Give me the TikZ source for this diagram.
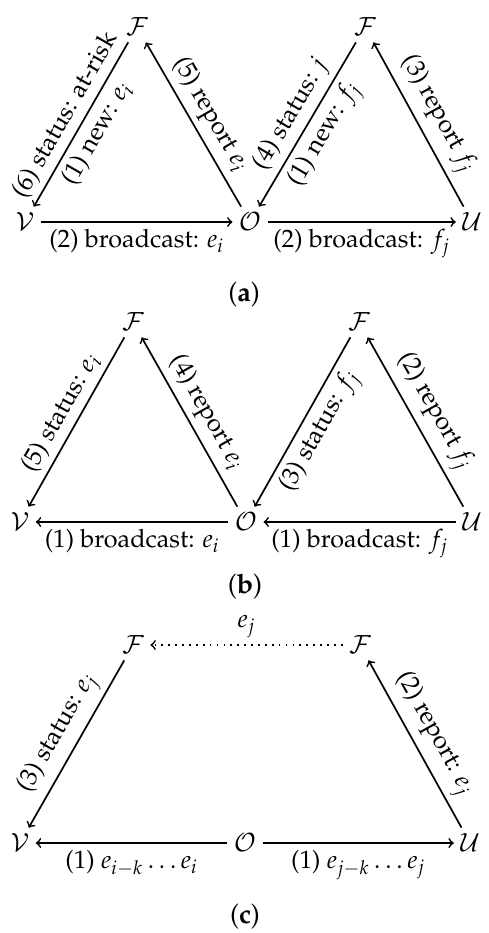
\documentclass[tikz,border=0pt]{standalone}
\usepackage[T1]{fontenc}
\usepackage{mathpazo}
\begin{document}
\begin{tikzpicture}[x=0.5pt,y=-0.5pt,
  font=\fontsize{12.6}{15}\selectfont,
  nd/.style={inner sep=3pt},
  arr/.style={->, line width=0.85pt},
  lbl/.style={sloped, inner sep=2.8pt},
  captxt/.style={font=\fontsize{13.5}{16}\selectfont}]
\useasboundingbox (0,0) rectangle (488,933);
% ---------- (a)
\node[nd] (aV) at (25,222) {$\mathcal{V}$};
\node[nd] (aO) at (250,222) {$\mathcal{O}$};
\node[nd] (aU) at (472,222) {$\mathcal{U}$};
\node[nd] (aF1) at (137,27) {$\mathcal{F}$};
\node[nd] (aF2) at (365,27) {$\mathcal{F}$};
\draw[arr] (aV) -- node[below]{(2) broadcast: $e_i$} (aO);
\draw[arr] (aO) -- node[below]{(2) broadcast: $f_j$} (aU);
\draw[arr] (aF1) -- node[lbl,above]{(6) status: at-risk} node[lbl,below]{(1) new: $e_i$} (aV);
\draw[arr] (aO) -- node[lbl,above]{(5) report $e_i$} (aF1);
\draw[arr] (aF2) -- node[lbl,above]{(4) status: $j$} node[lbl,below]{(1) new: $f_j$} (aO);
\draw[arr] (aU) -- node[lbl,above]{(3) report $f_j$} (aF2);
\node[captxt] (capa) at (244,295) {(\textbf{a})};
% ---------- (b)
\node[nd] (bV) at (20,522) {$\mathcal{V}$};
\node[nd] (bO) at (246,522) {$\mathcal{O}$};
\node[nd] (bU) at (472,522) {$\mathcal{U}$};
\node[nd] (bF1) at (133,322) {$\mathcal{F}$};
\node[nd] (bF2) at (359,322) {$\mathcal{F}$};
\draw[arr] (bO) -- node[below]{(1) broadcast: $e_i$} (bV);
\draw[arr] (bU) -- node[below]{(1) broadcast: $f_j$} (bO);
\draw[arr] (bF1) -- node[lbl,above]{(5) status: $e_i$} (bV);
\draw[arr] (bO) -- node[lbl,above]{(4) report $e_i$} (bF1);
\draw[arr] (bF2) -- node[lbl,below]{(3) status: $f_j$} (bO);
\draw[arr] (bU) -- node[lbl,above]{(2) report $f_j$} (bF2);
\node[captxt] (capb) at (245,587) {(\textbf{b})};
% ---------- (c)
\node[nd] (cV) at (20,843) {$\mathcal{V}$};
\node[nd] (cO) at (245,843) {$\mathcal{O}$};
\node[nd] (cU) at (470,843) {$\mathcal{U}$};
\node[nd] (cF1) at (133,645) {$\mathcal{F}$};
\node[nd] (cF2) at (360,645) {$\mathcal{F}$};
\draw[arr] (cO) -- node[below]{(1) $e_{i-k}\ldots e_i$} (cV);
\draw[arr] (cO) -- node[below]{(1) $e_{j-k}\ldots e_j$} (cU);
\draw[arr] (cF1) -- node[lbl,above]{(3) status: $e_j$} (cV);
\draw[arr] (cU) -- node[lbl,above]{(2) report: $e_j$} (cF2);
\draw[arr,dash pattern=on 0.85pt off 2.6pt] (cF2) -- node[above]{$e_j$} (cF1);
\node[captxt] (capc) at (245,917) {(\textbf{c})};
\end{tikzpicture}
\end{document}
